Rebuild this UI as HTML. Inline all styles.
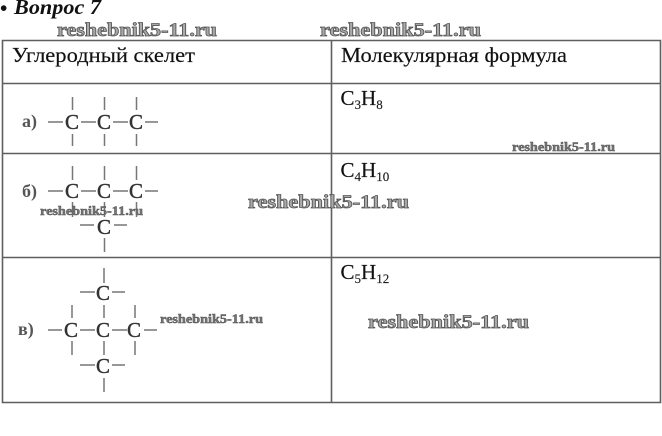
<!DOCTYPE html>
<html><head><meta charset="utf-8">
<style>
html,body{margin:0;padding:0;background:#fff;width:662px;height:436px;overflow:hidden}
svg{display:block}
text{font-family:"Liberation Serif",serif}
.t{font-size:21px;fill:#111;stroke:#111;stroke-width:.15}
.s{font-size:13px;fill:#222}
.c{font-size:21px;fill:#333;stroke:#333;stroke-width:.4;text-anchor:middle}
.l{font-size:18px;fill:#555;font-weight:bold}
.w{font-weight:bold;fill:#aaa;stroke:#555;stroke-width:.8}
.w1{font-size:19px}
.w2{font-size:12.5px;stroke-width:.5;fill:#777}
.b{stroke:#5f5f5f;stroke-width:1.6;fill:none}
.m{stroke:#777;stroke-width:1.5;fill:none}
</style></head><body>
<svg width="662" height="436" viewBox="0 0 662 436" xmlns="http://www.w3.org/2000/svg">
<rect width="662" height="436" fill="#fff"/>
<text x="0" y="15" font-size="21" font-weight="bold" fill="#111">•</text>
<text x="14" y="14" font-size="21" font-weight="bold" font-style="italic" fill="#111" textLength="87" lengthAdjust="spacingAndGlyphs">Вопрос 7</text>

<!-- table -->
<path class="b" d="M2.5 40.5H660.5V402.5H2.5Z"/>
<path class="b" d="M331.5 40.5V402.5M2.5 83.5H660.5M2.5 153.5H660.5M2.5 257.5H660.5"/>

<text class="t" x="12" y="62" textLength="183" lengthAdjust="spacingAndGlyphs">Углеродный скелет</text>
<text class="t" x="341" y="62" textLength="226" lengthAdjust="spacingAndGlyphs">Молекулярная формула</text>

<text class="t" x="340.5" y="105">C<tspan class="s" dy="4">3</tspan><tspan dy="-4">H</tspan><tspan class="s" dy="4">8</tspan></text>
<text class="t" x="340.5" y="177">C<tspan class="s" dy="4">4</tspan><tspan dy="-4">H</tspan><tspan class="s" dy="4">10</tspan></text>
<text class="t" x="340.5" y="279">C<tspan class="s" dy="4">5</tspan><tspan dy="-4">H</tspan><tspan class="s" dy="4">12</tspan></text>

<!-- a -->
<text class="l" x="22" y="127">а)</text>
<text class="c" x="72" y="129">C</text><text class="c" x="104" y="129">C</text><text class="c" x="136" y="129">C</text>
<path class="m" d="M72.5 97V110M104.5 97V110M136.5 97V110M72.5 134V146M104.5 134V146M136.5 134V146M48 122H63M81 122H96M113 122H128M145 122H158"/>

<!-- b -->
<text class="l" x="22" y="197">б)</text>
<text class="c" x="72" y="198">C</text><text class="c" x="104" y="198">C</text><text class="c" x="136" y="198">C</text>
<text class="c" x="104" y="234">C</text>
<path class="m" d="M72.5 166V180M104.5 166V180M136.5 166V180M72.5 202V217M104.5 202V217M136.5 202V217M48 191H63M81 191H96M113 191H128M145 191H158M80 225H94M114 225H127M104.5 238V252"/>

<!-- c -->
<text class="l" x="18" y="335">в)</text>
<text class="c" x="103" y="300">C</text>
<text class="c" x="71" y="337">C</text><text class="c" x="103" y="337">C</text><text class="c" x="134" y="337">C</text>
<text class="c" x="103" y="373">C</text>
<path class="m" d="M104 268V283M80 292H95M112 292H125M72 305V318M104 305V318M135 305V318M72 341V355M104 341V355M135 341V355M48 330H62M80 330H95M112 330H127M144 330H157M80 365H95M112 365H125M104 378V392"/>

<!-- watermarks -->
<text class="w w1" x="57" y="36" textLength="160" lengthAdjust="spacingAndGlyphs">reshebnik5-11.ru</text>
<text class="w w1" x="320" y="36" textLength="161" lengthAdjust="spacingAndGlyphs">reshebnik5-11.ru</text>
<text class="w w2" x="512" y="151" textLength="103" lengthAdjust="spacingAndGlyphs">reshebnik5-11.ru</text>
<text class="w w1" x="248" y="208" textLength="161" lengthAdjust="spacingAndGlyphs">reshebnik5-11.ru</text>
<text class="w w2" x="40" y="215" textLength="103" lengthAdjust="spacingAndGlyphs">reshebnik5-11.ru</text>
<text class="w w2" x="160" y="323" textLength="103" lengthAdjust="spacingAndGlyphs">reshebnik5-11.ru</text>
<text class="w w1" x="368" y="328" textLength="161" lengthAdjust="spacingAndGlyphs">reshebnik5-11.ru</text>
</svg>
</body></html>
